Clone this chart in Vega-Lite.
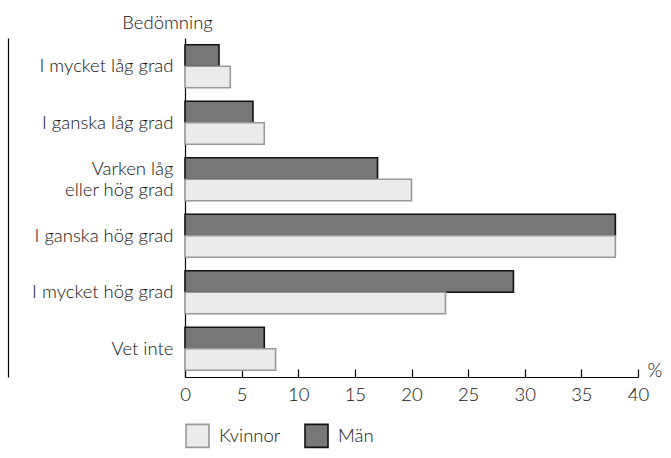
{
  "$schema": "https://vega.github.io/schema/vega-lite/v6.json",
  "width": 453,
  "height": 339,
  "autosize": "none",
  "padding": {"left": 185, "top": 38, "right": 33, "bottom": 81},
  "config": {
    "font": "Lato",
    "view": {"stroke": null},
    "axis": {"labelFont": "Lato", "titleFont": "Lato", "labelColor": "#111", "titleColor": "#111", "grid": false, "labelFontWeight": 300, "titleFontWeight": 300},
    "legend": {"labelFontWeight": 300}
  },
  "data": {
    "values": [
      {"kategori": "I mycket låg grad", "kon": "Män", "procent": 3},
      {"kategori": "I mycket låg grad", "kon": "Kvinnor", "procent": 4},
      {"kategori": "I ganska låg grad", "kon": "Män", "procent": 6},
      {"kategori": "I ganska låg grad", "kon": "Kvinnor", "procent": 7},
      {"kategori": "Varken låg eller hög grad", "kon": "Män", "procent": 17},
      {"kategori": "Varken låg eller hög grad", "kon": "Kvinnor", "procent": 20},
      {"kategori": "I ganska hög grad", "kon": "Män", "procent": 38},
      {"kategori": "I ganska hög grad", "kon": "Kvinnor", "procent": 38},
      {"kategori": "I mycket hög grad", "kon": "Män", "procent": 29},
      {"kategori": "I mycket hög grad", "kon": "Kvinnor", "procent": 23},
      {"kategori": "Vet inte", "kon": "Män", "procent": 7},
      {"kategori": "Vet inte", "kon": "Kvinnor", "procent": 8}
    ]
  },
  "layer": [
    {
      "mark": {"type": "bar", "strokeWidth": 1.6},
      "encoding": {
        "y": {
          "field": "kategori",
          "type": "nominal",
          "sort": ["I mycket låg grad", "I ganska låg grad", "Varken låg eller hög grad", "I ganska hög grad", "I mycket hög grad", "Vet inte"],
          "scale": {"paddingInner": 0.24, "paddingOuter": 0.12},
          "axis": {
            "orient": "left",
            "title": "Bedömning",
            "titleAngle": 0,
            "titleAlign": "center",
            "titleBaseline": "alphabetic",
            "titleX": -18,
            "titleY": -10,
            "titleFontSize": 18.5,
            "labelFontSize": 18.5,
            "labelPadding": 12,
            "labelLineHeight": 21,
            "labelOffset": {"condition": {"test": "datum.value == 'Varken låg eller hög grad'", "value": -10}, "value": 0},
            "labelExpr": "datum.value == 'Varken låg eller hög grad' ? ['Varken låg', 'eller hög grad'] : datum.label",
            "ticks": false,
            "domain": true,
            "domainColor": "#000",
            "domainWidth": 1.2
          }
        },
        "yOffset": {"field": "kon", "type": "nominal", "scale": {"domain": ["Män", "Kvinnor"]}},
        "x": {
          "field": "procent",
          "type": "quantitative",
          "scale": {"domain": [0, 40]},
          "axis": {
            "values": [0, 5, 10, 15, 20, 25, 30, 35, 40],
            "title": "%",
            "titleAlign": "left",
            "titleAnchor": "start",
            "titleBaseline": "alphabetic",
            "titleX": 462,
            "titleY": -1,
            "titleFontSize": 19,
            "labelFontSize": 18.5,
            "labelPadding": 16,
            "tickSize": -8,
            "tickColor": "#000",
            "tickWidth": 1.2,
            "domainColor": "#000",
            "domainWidth": 1.2,
            "labelFlush": false
          }
        },
        "fill": {
          "field": "kon",
          "type": "nominal",
          "scale": {"domain": ["Kvinnor", "Män"], "range": ["#ebebeb", "#777777"]},
          "legend": {
            "title": null,
            "orient": "none",
            "legendX": 0,
            "legendY": 385,
            "direction": "horizontal",
            "symbolType": "square",
            "symbolSize": 529,
            "symbolStrokeWidth": 1.6,
            "labelFontSize": 18.5,
            "labelFont": "Lato",
            "labelColor": "#111",
            "labelOffset": 9,
            "columnPadding": 20
          }
        },
        "stroke": {
          "field": "kon",
          "type": "nominal",
          "scale": {"domain": ["Kvinnor", "Män"], "range": ["#999999", "#111111"]},
          "legend": {
            "title": null,
            "orient": "none",
            "legendX": 0,
            "legendY": 385,
            "direction": "horizontal",
            "symbolType": "square",
            "symbolSize": 529,
            "symbolStrokeWidth": 1.6,
            "labelFontSize": 18.5,
            "labelFont": "Lato",
            "labelColor": "#111",
            "labelOffset": 9,
            "columnPadding": 20
          }
        }
      }
    },
    {
      "mark": {"type": "bar", "opacity": 0},
      "encoding": {
        "y": {
          "field": "kategori",
          "type": "nominal",
          "sort": ["I mycket låg grad", "I ganska låg grad", "Varken låg eller hög grad", "I ganska hög grad", "I mycket hög grad", "Vet inte"],
          "axis": {"orient": "left", "offset": 177, "labels": false, "ticks": false, "title": null, "domain": true, "domainColor": "#000", "domainWidth": 1.2}
        },
        "x": {"field": "procent", "type": "quantitative"}
      }
    }
  ],
  "resolve": {"axis": {"y": "independent"}}
}
